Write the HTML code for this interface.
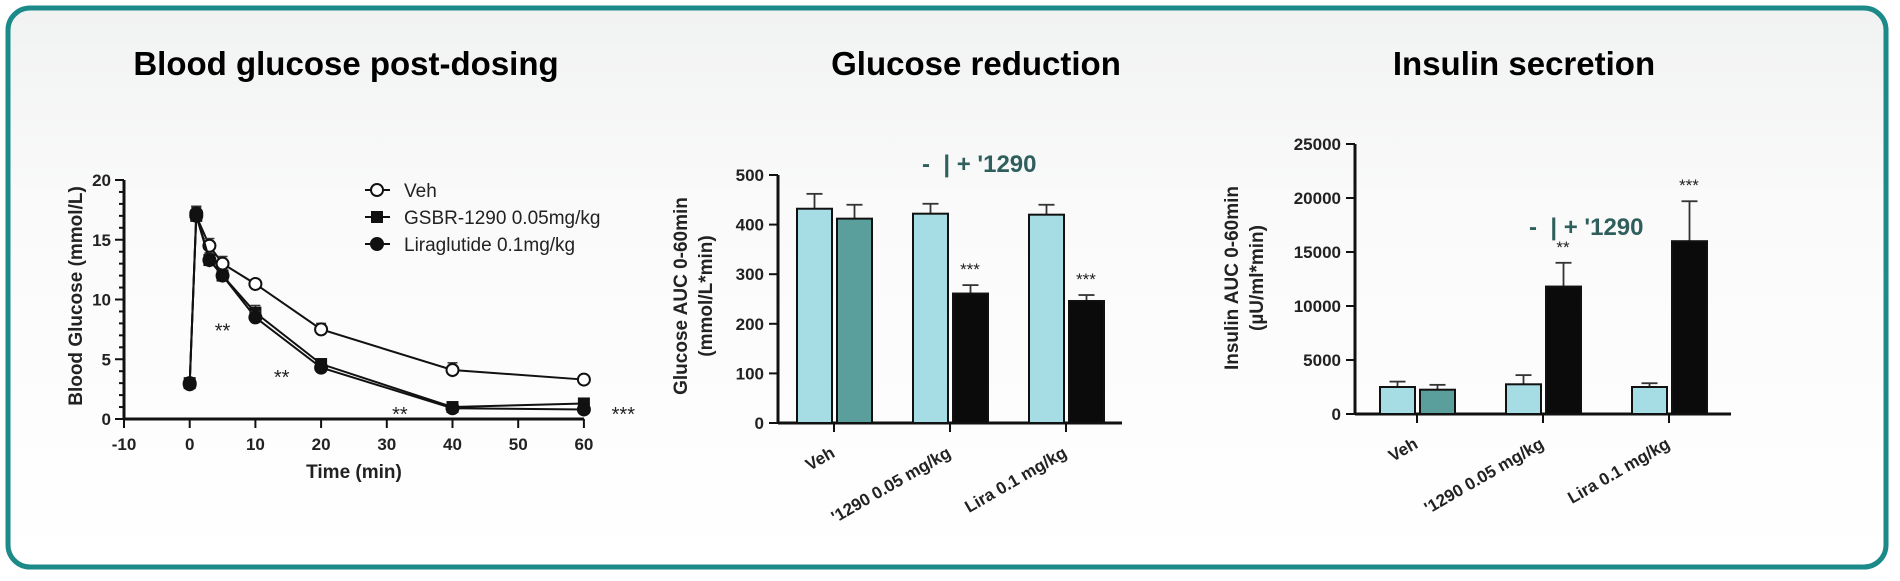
<!DOCTYPE html>
<html><head><meta charset="utf-8"><style>
html,body{margin:0;padding:0;width:1900px;height:581px;overflow:hidden;background:#fff}
svg{display:block}
text{font-family:"Liberation Sans",Arial,sans-serif}
.title{font-size:33px;font-weight:bold;fill:#000}
.tick{font-size:17px;font-weight:bold;fill:#222}
.lab{font-size:19px;font-weight:bold;fill:#222}
.xl{font-size:17px;font-weight:bold;fill:#222}
.leg{font-size:19px;fill:#222}
.star{font-size:17px;fill:#222}
.star1{font-size:20px;fill:#222}
.teal{font-size:24px;font-weight:bold;fill:#2f5f5c;white-space:pre}
</style></head><body>
<svg id="root" width="1900" height="581" viewBox="0 0 1900 581" xmlns="http://www.w3.org/2000/svg">
<defs><linearGradient id="bg" x1="0" y1="0" x2="0" y2="1"><stop offset="0" stop-color="#f1f2f2"/><stop offset="0.35" stop-color="#fafafa"/><stop offset="1" stop-color="#ffffff"/></linearGradient></defs>
<rect x="8" y="8" width="1878" height="559" rx="22" fill="url(#bg)" stroke="#1b8a88" stroke-width="5"/>
<text class="title" x="346" y="75" text-anchor="middle">Blood glucose post-dosing</text>
<text class="title" x="976" y="75" text-anchor="middle">Glucose reduction</text>
<text class="title" x="1524" y="75" text-anchor="middle">Insulin secretion</text>
<g id="c1"></g>
<g id="c2"></g>
<g id="c3"></g>
</svg>
<script>
const NS="http://www.w3.org/2000/svg";
function mk(p,t,a){const e=document.createElementNS(NS,t);for(const k in a)e.setAttribute(k,a[k]);p.appendChild(e);return e;}

// ---- Chart 1 data ----
const times=[0,1,3,5,10,20,40,60];
const vehVals=[3,17,14.5,13,11.3,7.5,4.1,3.3];
const vehErr=[0.3,0.8,0.6,0.6,0.3,0.5,0.6,0.3];
const gsbrVals=[3,17,13.3,12,8.9,4.6,1.0,1.3];
const gsbrErr=[0.3,0.7,0.6,0.5,0.6,0.4,0.3,0.3];
const liraVals=[2.9,17.2,13.3,12,8.5,4.3,0.9,0.8];
const liraErr=[0.3,0.6,0.5,0.4,0.5,0.3,0.2,0.2];
const xTicks1=[-10,0,10,20,30,40,50,60];
const yTicks1=[0,5,10,15,20];
const stars1=[[5,7.5,"**"],[14,3.6,"**"],[32,0.5,"**"],[66,0.5,"***"]];

// ---- Chart 2 data ----
const groups=["Veh","'1290 0.05 mg/kg","Lira 0.1 mg/kg"];
const gluMinus=[432,422,420];
const gluMinusErr=[30,20,20];
const gluPlus=[412,261,246];
const gluPlusErr=[28,17,12];
const gluStars=["","***","***"];
const yTicks2=[0,100,200,300,400,500];

// ---- Chart 3 data ----
const insMinus=[2500,2750,2500];
const insMinusErr=[500,850,350];
const insPlus=[2250,11800,16000];
const insPlusErr=[450,2200,3700];
const insStars=["","**","***"];
const yTicks3=[0,5000,10000,15000,20000,25000];

// Chart 1
(function(){
const g=document.getElementById('c1');
const X=v=>124+(v+10)*6.57, Y=v=>419-v*11.95;
let e=mk(g,'line',{x1:124,y1:419,x2:584,y2:419,stroke:'#111','stroke-width':3});


e=mk(g,'line',{x1:124,y1:419,x2:124,y2:Y(20),stroke:'#111','stroke-width':3});


for(let v=0;v<=20;v++){const big=v%5===0;mk(g,'line',{x1:124-(big?9:5),x2:124,y1:Y(v),y2:Y(v),stroke:'#111','stroke-width':2});}
xTicks1.forEach(v=>{mk(g,'line',{x1:X(v),x2:X(v),y1:419,y2:428,stroke:'#111','stroke-width':2});
 const t=mk(g,'text',{x:X(v),y:450,'text-anchor':'middle',class:'tick'});t.textContent=v;
 
 });
yTicks1.forEach(v=>{const t=mk(g,'text',{x:111,y:Y(v)+6,'text-anchor':'end',class:'tick'});t.textContent=v;
 
 });
let t=mk(g,'text',{x:354,y:478,'text-anchor':'middle',class:'lab'});t.textContent='Time (min)';


t=mk(g,'text',{x:0,y:0,'text-anchor':'middle',class:'lab',transform:'translate(82,296) rotate(-90)'});t.textContent='Blood Glucose (mmol/L)';


const series=[[vehVals,vehErr,'circle-open','veh'],[gsbrVals,gsbrErr,'square','gsbr-1290'],[liraVals,liraErr,'circle','liraglutide']];
function marker(p,x,y,type){
 if(type==='square')return mk(p,'rect',{x:x-6,y:y-6,width:12,height:12,fill:'#111'});
 return mk(p,'circle',{cx:x,cy:y,r:6,fill:type==='circle'?'#111':'#fff',stroke:'#111','stroke-width':2});}
series.forEach(([vals,err,type,name])=>{
 const sg=mk(g,'g',{});
 
 
 mk(sg,'polyline',{points:times.map((tt,i)=>X(tt)+','+Y(vals[i])).join(' '),fill:'none',stroke:'#111','stroke-width':2});
 times.forEach((tt,i)=>{
  mk(sg,'line',{x1:X(tt),x2:X(tt),y1:Y(vals[i]-err[i]),y2:Y(vals[i]+err[i]),stroke:'#333','stroke-width':1.5});
  mk(sg,'line',{x1:X(tt)-5,x2:X(tt)+5,y1:Y(vals[i]+err[i]),y2:Y(vals[i]+err[i]),stroke:'#333','stroke-width':1.5});
  const m=marker(sg,X(tt),Y(vals[i]),type);
  
  
 });
});
stars1.forEach(([x,y,s])=>{const t=mk(g,'text',{x:X(x),y:Y(y)+8,'text-anchor':'middle',class:'star1'});t.textContent=s;
 
 });
const legNames=['Veh','GSBR-1290 0.05mg/kg','Liraglutide 0.1mg/kg'];
legNames.forEach((n,i)=>{const ly=190+i*27;
 const lg=mk(g,'g',{});
 
 
 mk(lg,'line',{x1:365,x2:390,y1:ly,y2:ly,stroke:'#111','stroke-width':2});
 marker(lg,377,ly,series[i][2]);
 const t=mk(lg,'text',{x:404,y:ly+7,class:'leg'});t.textContent=n;});
})();

// Bar charts
function barChart(id,cfg){
 const g=document.getElementById(id);
 const Y=v=>cfg.y0-v*cfg.k;
 let e=mk(g,'line',{x1:cfg.ax,y1:cfg.y0,x2:cfg.axEnd,y2:cfg.y0,stroke:'#111','stroke-width':3});
 
 
 e=mk(g,'line',{x1:cfg.ax,y1:cfg.y0,x2:cfg.ax,y2:Y(cfg.yt[cfg.yt.length-1]),stroke:'#111','stroke-width':3});
 
 
 cfg.yt.forEach(v=>{mk(g,'line',{x1:cfg.ax-9,x2:cfg.ax,y1:Y(v),y2:Y(v),stroke:'#111','stroke-width':2});
  const t=mk(g,'text',{x:cfg.ax-14,y:Y(v)+6,'text-anchor':'end',class:'tick'});t.textContent=v;
  
  });
 groups.forEach((name,i)=>{
  const cx=cfg.g0+i*cfg.gs;
  mk(g,'line',{x1:cx,x2:cx,y1:cfg.y0,y2:cfg.y0+9,stroke:'#111','stroke-width':2});
  const t=mk(g,'text',{x:0,y:0,'text-anchor':'end',class:'xl',transform:`translate(${cx+2},${cfg.y0+33}) rotate(-30)`});t.textContent=name;
  
  
  const bars=[[cx-37,cfg.m[i],cfg.me[i],'#a6dde4','minus'],[cx+3,cfg.p[i],cfg.pe[i],i===0?'#5a9f9c':'#0b0b0c','plus']];
  bars.forEach(([x,v,er,col,nm])=>{
   const bw=35,mx=x+bw/2;
   mk(g,'line',{x1:mx,x2:mx,y1:Y(v),y2:Y(v+er),stroke:'#333','stroke-width':1.8});
   mk(g,'line',{x1:mx-8,x2:mx+8,y1:Y(v+er),y2:Y(v+er),stroke:'#333','stroke-width':1.8});
   const r=mk(g,'rect',{x:x,y:Y(v),width:bw,height:v*cfg.k,fill:col,stroke:'#111','stroke-width':2});
   
   
  });
  if(cfg.st[i]){const s=mk(g,'text',{x:cx+20,y:Y(cfg.p[i]+cfg.pe[i])-10,'text-anchor':'middle',class:'star'});s.textContent=cfg.st[i];
   
   }
 });
 cfg.ylab.forEach((l,j)=>{const t=mk(g,'text',{x:0,y:0,'text-anchor':'middle',class:'lab',transform:`translate(${cfg.ylx+j*25},${cfg.yly}) rotate(-90)`});t.textContent=l;
  
  });
 const tt=mk(g,'text',{x:cfg.tx,y:cfg.ty,class:'teal'});tt.textContent="-  | + '1290";
 
 
}
barChart('c2',{ax:778,axEnd:1122,y0:423,k:248/500,yt:yTicks2,g0:834,gs:116,m:gluMinus,me:gluMinusErr,p:gluPlus,pe:gluPlusErr,st:gluStars,ylab:['Glucose AUC 0-60min','(mmol/L*min)'],ylx:687,yly:296,tx:922,ty:172});
barChart('c3',{ax:1355,axEnd:1731,y0:414,k:270/25000,yt:yTicks3,g0:1417,gs:126,m:insMinus,me:insMinusErr,p:insPlus,pe:insPlusErr,st:insStars,ylab:['Insulin AUC 0-60min','(µU/ml*min)'],ylx:1238,yly:278,tx:1529,ty:235});
</script>
</body></html>
